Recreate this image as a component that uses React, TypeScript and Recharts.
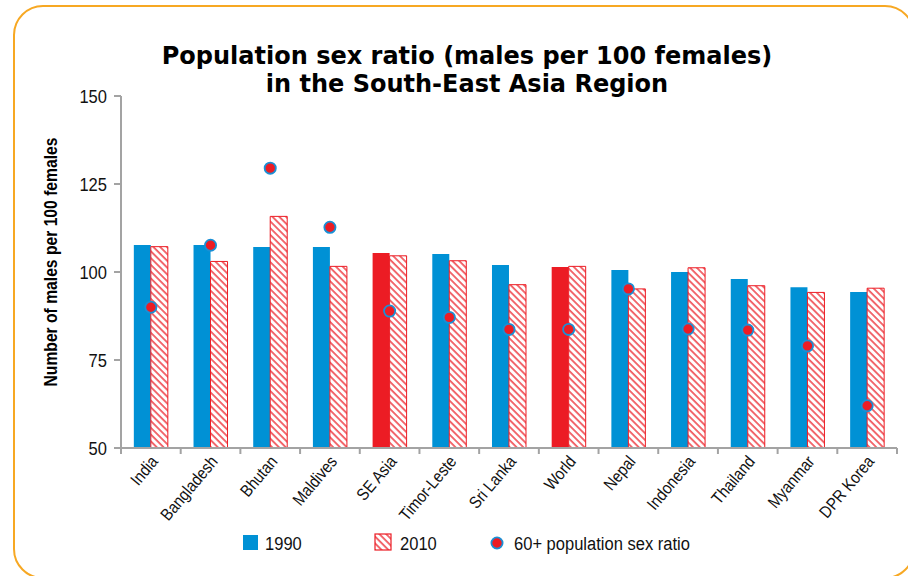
import React from 'react';
import { ComposedChart, Bar, Scatter, XAxis, YAxis, Cell } from 'recharts';

const categories = ['India', 'Bangladesh', 'Bhutan', 'Maldives', 'SE Asia', 'Timor-Leste', 'Sri Lanka', 'World', 'Nepal', 'Indonesia', 'Thailand', 'Myanmar', 'DPR Korea'];
const ratio1990 = [107.7, 107.7, 107.1, 107.1, 105.4, 105.1, 102.0, 101.4, 100.6, 100.0, 98.0, 95.7, 94.3];
const ratio2010 = [107.2, 103.0, 115.8, 101.6, 104.6, 103.2, 96.4, 101.6, 95.2, 101.2, 96.1, 94.2, 95.4];
const ratio60plus = [90.0, 107.6, 129.5, 112.7, 88.9, 87.1, 83.7, 83.7, 95.2, 83.8, 83.5, 79.0, 62.0];
const highlighted = ['SE Asia', 'World'];
const yTicks = [50, 75, 100, 125, 150];

const data = categories.map((c, i) => ({
  name: c,
  y1990: ratio1990[i],
  y2010: ratio2010[i],
  old: ratio60plus[i],
}));

const BLUE = '#0091d5';
const RED = '#ec1c24';
const GRAY = '#a3a3a3';
const SANS = '"Liberation Sans", Arial, sans-serif';
const SQ = 0.87;

const PLOT_LEFT = 121;
const PLOT_RIGHT = 897;
const BAND = (PLOT_RIGHT - PLOT_LEFT) / categories.length;

const NText = ({ x, y, size, anchor, rotate, children }: any) => (
  <text
    x={0}
    y={0}
    textAnchor={anchor || 'start'}
    transform={`translate(${x}, ${y})${rotate ? ` rotate(${rotate})` : ''} scale(${SQ}, 1)`}
    fontSize={size}
    fontFamily={SANS}
    fill="#111"
  >
    {children}
  </text>
);

const XTick = (props: any) => {
  const { x, y, payload, index } = props;
  return (
    <g>
      <line x1={x - BAND / 2} x2={x - BAND / 2} y1={y} y2={y + 6} stroke={GRAY} strokeWidth={2} />
      {index === categories.length - 1 && (
        <line x1={x + BAND / 2} x2={x + BAND / 2} y1={y} y2={y + 6} stroke={GRAY} strokeWidth={2} />
      )}
      <NText x={x + 8} y={y + 14} size={17} anchor="end" rotate={-50}>
        {payload.value}
      </NText>
    </g>
  );
};

const YTick = (props: any) => {
  const { x, y, payload } = props;
  return (
    <NText x={x} y={y + 6.5} size={19} anchor="end">
      {payload.value}
    </NText>
  );
};

const OldDot = (p: any) => (
  <circle cx={p.cx} cy={p.cy} r={5.6} fill={RED} stroke="#1a8fd5" strokeWidth={1.8} />
);

export default function App() {
  return (
    <div style={{ position: 'absolute', left: 0, top: 0, width: 908, height: 576, background: '#fff', overflow: 'hidden' }}>
      <svg width={0} height={0} style={{ position: 'absolute' }}>
        <defs>
          <pattern id="hatch" patternUnits="userSpaceOnUse" width={4.8} height={4.8} patternTransform="rotate(-45)">
            <rect x={0} y={0} width={4.8} height={4.8} fill="#fff" />
            <line x1={1} y1={0} x2={1} y2={4.8} stroke={RED} strokeWidth={1.3} />
          </pattern>
        </defs>
      </svg>
      <div
        style={{
          position: 'absolute',
          left: 13,
          top: 5,
          width: 898,
          height: 570,
          border: '2.5px solid #f7a823',
          borderRadius: 30,
        }}
      />
      <div
        style={{
          position: 'absolute',
          left: 0,
          width: 934,
          top: 42,
          textAlign: 'center',
          fontFamily: '"DejaVu Sans", sans-serif',
          fontWeight: 'bold',
          fontSize: 24,
          lineHeight: '28px',
          color: '#000',
        }}
      >
        Population sex ratio (males per 100 females)
        <br />
        in the South-East Asia Region
      </div>
      <div
        style={{
          position: 'absolute',
          left: 51,
          top: 262,
          transform: 'translate(-50%, -50%) rotate(-90deg) scaleX(0.87)',
          whiteSpace: 'nowrap',
          fontFamily: SANS,
          fontWeight: 'bold',
          fontSize: 18,
          color: '#000',
        }}
      >
        Number of males per 100 females
      </div>
      <div style={{ position: 'absolute', left: 0, top: 0 }}>
        <ComposedChart
          width={908}
          height={576}
          data={data}
          margin={{ top: 96, right: 908 - PLOT_RIGHT, bottom: 48, left: 0 }}
          barCategoryGap="21.5%"
          barGap={0}
        >
          <XAxis
            dataKey="name"
            interval={0}
            tickSize={0}
            tickMargin={0}
            tickLine={false}
            height={80}
            axisLine={{ stroke: GRAY, strokeWidth: 2 }}
            tick={<XTick />}
          />
          <YAxis
            width={PLOT_LEFT}
            domain={[50, 150]}
            ticks={yTicks}
            tickSize={7}
            tickMargin={7}
            axisLine={{ stroke: GRAY, strokeWidth: 2 }}
            tickLine={{ stroke: GRAY, strokeWidth: 2 }}
            tick={<YTick />}
          />
          <Bar dataKey="y1990" isAnimationActive={false} fill={BLUE}>
            {data.map((d) => (
              <Cell key={d.name} fill={highlighted.includes(d.name) ? RED : BLUE} />
            ))}
          </Bar>
          <Bar dataKey="y2010" isAnimationActive={false} fill="url(#hatch)" stroke={RED} strokeWidth={1} />
          <Scatter dataKey="old" isAnimationActive={false} shape={<OldDot />} />
        </ComposedChart>
      </div>
      <svg width={908} height={576} style={{ position: 'absolute', left: 0, top: 0, pointerEvents: 'none' }}>
        <rect x={243} y={535} width={15} height={15} fill={BLUE} />
        <NText x={265} y={550} size={19}>1990</NText>
        <rect x={375} y={534} width={16} height={16} fill="url(#hatch)" stroke={RED} strokeWidth={1.2} />
        <NText x={400} y={550} size={19}>2010</NText>
        <circle cx={497} cy={543} r={5.6} fill={RED} stroke="#1a8fd5" strokeWidth={1.8} />
        <NText x={514} y={550} size={19}>60+ population sex ratio</NText>
      </svg>
    </div>
  );
}
